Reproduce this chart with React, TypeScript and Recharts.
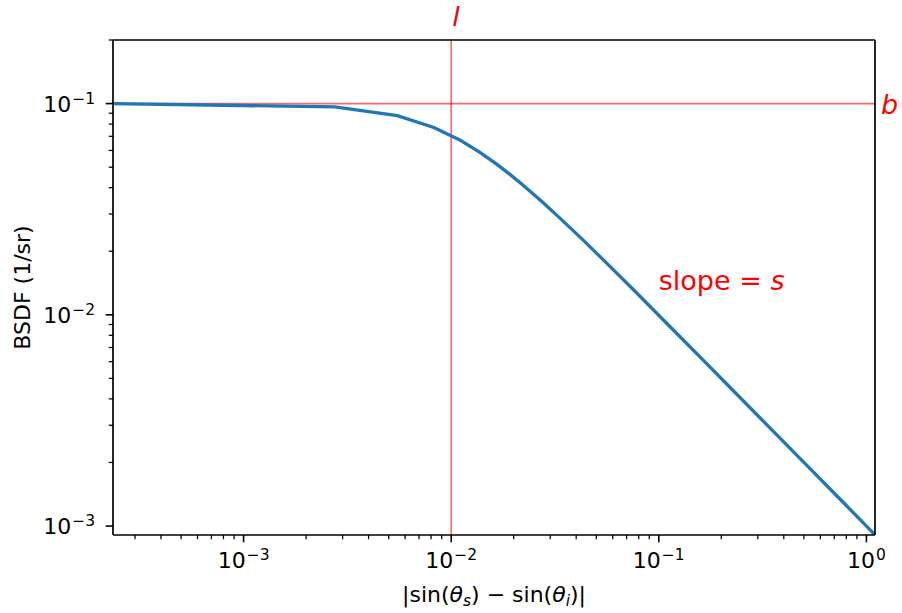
import React from 'react';
import { LineChart, Line, XAxis, YAxis, ReferenceLine, ReferenceDot } from 'recharts';

// |sin(θs) - sin(θi)| sample positions and BSDF values
const xValues = [2.35e-4, 0.00275, 0.0055, 0.00825, 0.011, 0.01375, 0.0165, 0.01925, 0.022, 0.0275, 0.033, 0.044, 0.055, 0.077, 0.11, 0.165, 0.22, 0.33, 0.55, 0.77, 1.1];
const bsdfValues = [0.1, 0.0964, 0.0876, 0.0771, 0.0673, 0.0588, 0.0518, 0.0461, 0.0414, 0.0342, 0.029, 0.0222, 0.0179, 0.0129, 0.00905, 0.00605, 0.00454, 0.00303, 0.00182, 0.0013, 0.000909];

const xMajorTicks = [1e-3, 1e-2, 1e-1, 1];
const xMinorTicks = [3e-4, 4e-4, 5e-4, 6e-4, 7e-4, 8e-4, 9e-4, 2e-3, 3e-3, 4e-3, 5e-3, 6e-3, 7e-3, 8e-3, 9e-3, 0.02, 0.03, 0.04, 0.05, 0.06, 0.07, 0.08, 0.09, 0.2, 0.3, 0.4, 0.5, 0.6, 0.7, 0.8, 0.9];
const xExponents = ['−3', '−2', '−1', '0'];
const yMajorTicks = [1e-3, 1e-2, 1e-1];
const yMinorTicks = [2e-3, 3e-3, 4e-3, 5e-3, 6e-3, 7e-3, 8e-3, 9e-3, 0.02, 0.03, 0.04, 0.05, 0.06, 0.07, 0.08, 0.09, 0.2];
const yExponents = ['−3', '−2', '−1'];

const xDomain = [2.35e-4, 1.1];
const yDomain = [0.000907, 0.2];

const breakX = 0.01; // l
const level = 0.1; // b
const slopeLabelAt = { x: 0.1, y: 0.0131 };

const data = xValues.map((x, i) => ({ x, bsdf: bsdfValues[i] }));

const FONT = '"DejaVu Sans", sans-serif';
const RED_LINE = 'rgba(255, 0, 0, 0.6)';
const TICK_FONT = 22;
const SUP_FONT = 15.5;
const ANNOT_FONT = 27;

const XTick = (props: any) => {
  const { x, y, payload } = props;
  const idx = xMajorTicks.indexOf(payload.value);
  if (idx < 0) {
    return <line x1={x} y1={y} x2={x} y2={y + 4.2} stroke="#000" strokeWidth={1.25} />;
  }
  return (
    <g>
      <line x1={x} y1={y} x2={x} y2={y + 7.3} stroke="#000" strokeWidth={1.6} />
      <text x={x} y={y + 33} textAnchor="middle" fontSize={TICK_FONT} fontFamily={FONT} fill="#000">
        10<tspan dy={-8} dx={1} fontSize={SUP_FONT}>{xExponents[idx]}</tspan>
      </text>
    </g>
  );
};

const YTick = (props: any) => {
  const { x, y, payload } = props;
  const idx = yMajorTicks.indexOf(payload.value);
  if (idx < 0) {
    return <line x1={x} y1={y} x2={x - 4.2} y2={y} stroke="#000" strokeWidth={1.25} />;
  }
  return (
    <g>
      <line x1={x} y1={y} x2={x - 7.3} y2={y} stroke="#000" strokeWidth={1.6} />
      <text x={x - 18} y={y + 8} textAnchor="end" fontSize={TICK_FONT} fontFamily={FONT} fill="#000">
        10<tspan dy={-8} dx={1} fontSize={SUP_FONT}>{yExponents[idx]}</tspan>
      </text>
    </g>
  );
};

export default function App() {
  return (
    <div style={{ position: 'absolute', left: 0, top: 0, width: 902, height: 613, background: '#fff' }}>
      <LineChart width={902} height={613} data={data} margin={{ top: 40, right: 27, bottom: 18, left: 13 }}>
        <XAxis
          dataKey="x"
          type="number"
          scale="log"
          domain={xDomain}
          allowDataOverflow
          ticks={[...xMajorTicks, ...xMinorTicks]}
          interval={0}
          tick={<XTick />}
          tickLine={false}
          tickSize={0}
          tickMargin={0}
          height={60}
          axisLine={{ stroke: '#000', strokeWidth: 1.7 }}
          label={(p: any) => {
            const vb = p.viewBox;
            const cx = vb.x + vb.width / 2;
            return (
              <text x={cx} y={602} textAnchor="middle" fontSize={TICK_FONT} fontFamily={FONT} fill="#000">
                |sin(<tspan fontStyle="italic">θ</tspan>
                <tspan fontStyle="italic" fontSize={SUP_FONT} dy={4}>s</tspan>
                <tspan dy={-4}>) − sin(</tspan>
                <tspan fontStyle="italic">θ</tspan>
                <tspan fontStyle="italic" fontSize={SUP_FONT} dy={4}>i</tspan>
                <tspan dy={-4}>)|</tspan>
              </text>
            );
          }}
        />
        <YAxis
          type="number"
          scale="log"
          domain={yDomain}
          allowDataOverflow
          ticks={[...yMajorTicks, ...yMinorTicks]}
          interval={0}
          tick={<YTick />}
          tickLine={false}
          tickSize={0}
          tickMargin={0}
          width={100}
          axisLine={{ stroke: '#000', strokeWidth: 1.7 }}
          label={(p: any) => {
            const vb = p.viewBox;
            const cy = vb.y + vb.height / 2;
            return (
              <text x={30} y={cy} transform={`rotate(-90, 30, ${cy})`} textAnchor="middle" fontSize={TICK_FONT} fontFamily={FONT} fill="#000">
                BSDF (1/sr)
              </text>
            );
          }}
        />
        <ReferenceLine
          x={breakX}
          stroke={RED_LINE}
          strokeWidth={1.6}
          label={(p: any) => {
            const vb = p.viewBox;
            return (
              <text x={vb.x + 1} y={vb.y - 14} fontSize={ANNOT_FONT} fontStyle="italic" fontFamily={FONT} fill="#ff0000">l</text>
            );
          }}
        />
        <ReferenceLine
          y={level}
          stroke={RED_LINE}
          strokeWidth={1.6}
          label={(p: any) => {
            const vb = p.viewBox;
            return (
              <text x={vb.x + vb.width + 6} y={vb.y + 10} fontSize={ANNOT_FONT} fontStyle="italic" fontFamily={FONT} fill="#ff0000">b</text>
            );
          }}
        />
        <Line
          dataKey="bsdf"
          type="linear"
          stroke="#1f77b4"
          strokeWidth={3.3}
          dot={false}
          isAnimationActive={false}
        />
        {/* top and right spines */}
        <ReferenceLine y={yDomain[1]} stroke="#000" strokeWidth={1.7} />
        <ReferenceLine x={xDomain[1]} stroke="#000" strokeWidth={1.7} />
        <ReferenceDot
          x={slopeLabelAt.x}
          y={slopeLabelAt.y}
          r={0}
          fill="none"
          stroke="none"
          ifOverflow="visible"
          label={(p: any) => {
            const vb = p.viewBox;
            return (
              <text x={vb.x} y={vb.y} fontSize={ANNOT_FONT} fontFamily={FONT} fill="#ff0000">
                slope = <tspan fontStyle="italic">s</tspan>
              </text>
            );
          }}
        />
      </LineChart>
    </div>
  );
}
